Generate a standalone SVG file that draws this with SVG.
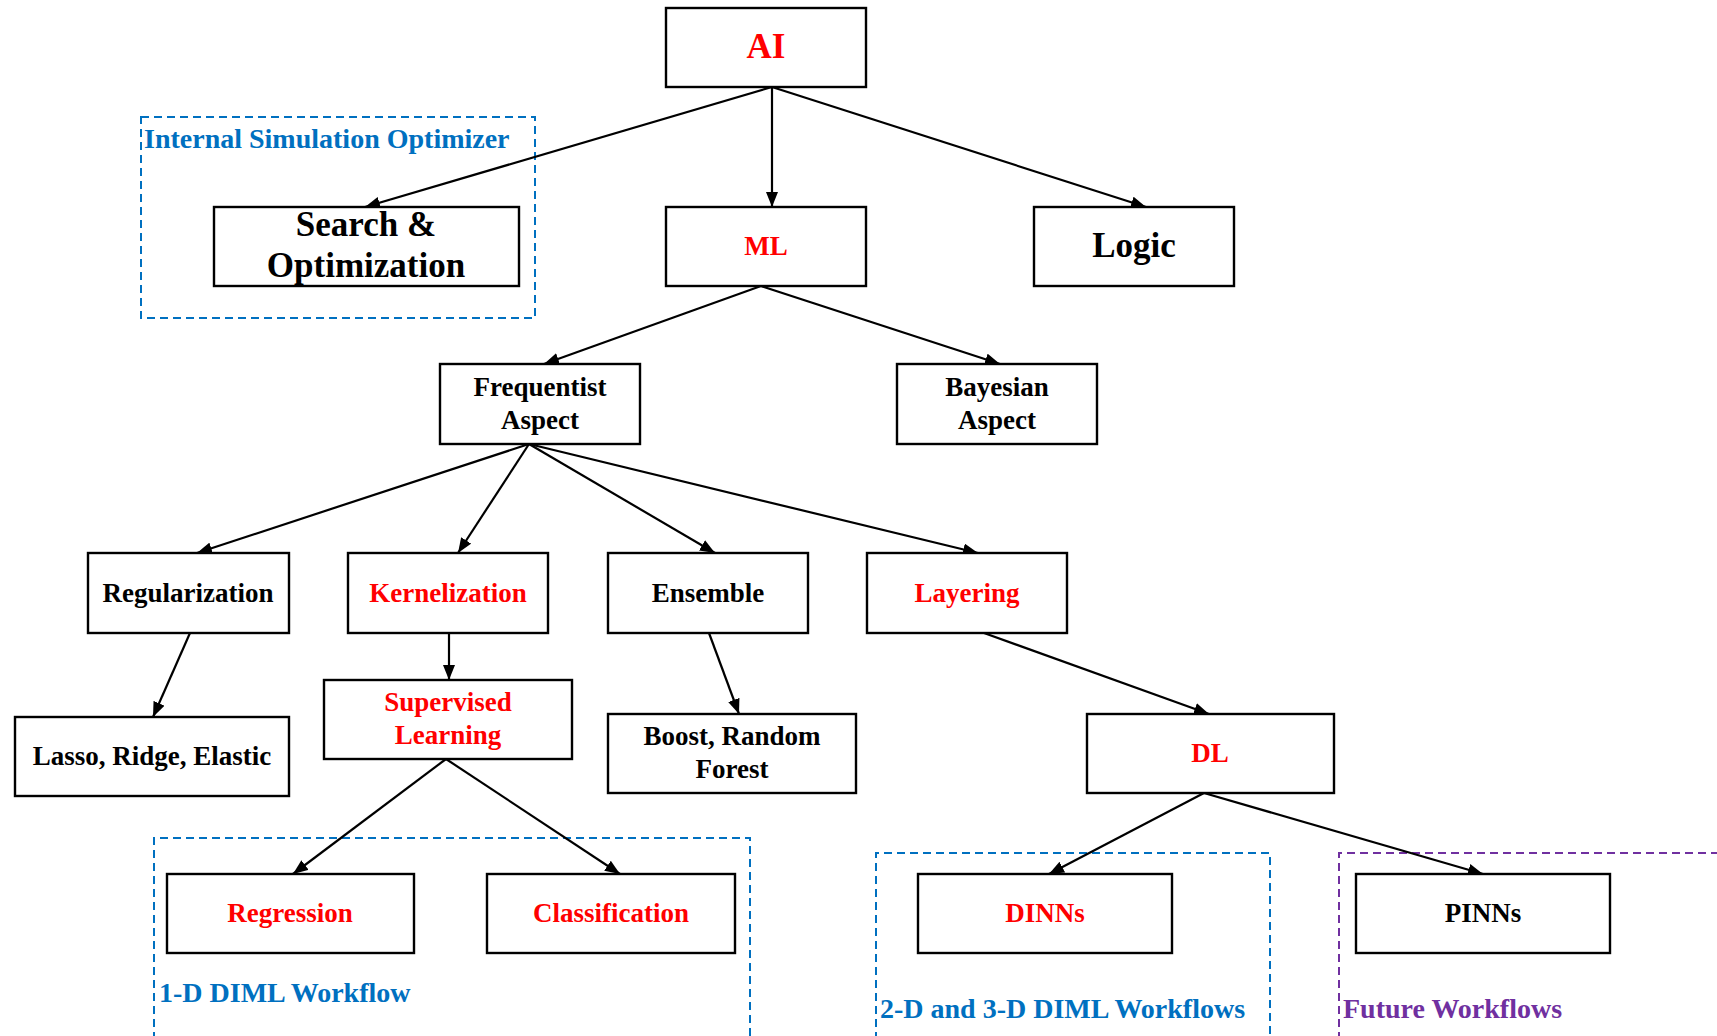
<svg xmlns="http://www.w3.org/2000/svg" width="1717" height="1036" viewBox="0 0 1717 1036">
  <defs>
    <style>
      .box { fill: #ffffff; stroke: #000000; stroke-width: 2.4; }
      .t { font-family: "Liberation Serif", "Times New Roman", serif; font-weight: bold; font-size: 27px; text-anchor: middle; }
      .big { font-size: 35px; }
      .red { fill: #ff0000; }
      .blk { fill: #000000; }
      .edge { stroke: #000000; stroke-width: 2.2; fill: none; marker-end: url(#arrow); }
      .grp { fill: none; stroke-width: 2; stroke-dasharray: 8 5; }
      .blue { stroke: #0070c0; }
      .purple { stroke: #7030a0; }
      .lbl { font-family: "Liberation Serif", "Times New Roman", serif; font-weight: bold; font-size: 28px; }
    </style>
    <marker id="arrow" viewBox="0 0 15 12" refX="15" refY="6" markerWidth="15" markerHeight="12" markerUnits="userSpaceOnUse" orient="auto">
      <path d="M0,0 L15,6 L0,12 Z" fill="#000000"/>
    </marker>
  </defs>
  <rect width="1717" height="1036" fill="#ffffff"/>

  <!-- dashed group frames -->
  <g id="groups">
    <rect class="grp blue" x="141" y="117" width="394" height="201"/>
    <text class="lbl" x="144" y="148" fill="#0070c0">Internal Simulation Optimizer</text>
    <path class="grp blue" d="M154,1040 V838 H750 V1040"/>
    <text class="lbl" x="159" y="1002" fill="#0070c0">1-D DIML Workflow</text>
    <path class="grp blue" d="M876,1040 V853 H1270 V1040"/>
    <text class="lbl" x="880" y="1018" fill="#0070c0">2-D and 3-D DIML Workflows</text>
    <path class="grp purple" d="M1339,1040 V853 H1720"/>
    <text class="lbl" x="1343" y="1018" fill="#7030a0">Future Workflows</text>
  </g>

  <!-- connectors -->
  <g id="connectors">
    <line class="edge" x1="772" y1="87" x2="365" y2="207"/>
    <line class="edge" x1="772" y1="87" x2="772" y2="207"/>
    <line class="edge" x1="772" y1="87" x2="1146" y2="207"/>
    <line class="edge" x1="761" y1="286" x2="544" y2="364"/>
    <line class="edge" x1="761" y1="286" x2="1000" y2="364"/>
    <line class="edge" x1="529" y1="444" x2="197" y2="553"/>
    <line class="edge" x1="529" y1="444" x2="458" y2="553"/>
    <line class="edge" x1="529" y1="444" x2="715" y2="553"/>
    <line class="edge" x1="529" y1="444" x2="978" y2="553"/>
    <line class="edge" x1="190" y1="633" x2="153" y2="717"/>
    <line class="edge" x1="449" y1="633" x2="449" y2="680"/>
    <line class="edge" x1="709" y1="633" x2="739" y2="714"/>
    <line class="edge" x1="446" y1="759" x2="293" y2="874"/>
    <line class="edge" x1="446" y1="759" x2="620" y2="874"/>
    <line class="edge" x1="984" y1="633" x2="1209" y2="714"/>
    <line class="edge" x1="1204" y1="793" x2="1049" y2="874"/>
    <line class="edge" x1="1204" y1="793" x2="1483" y2="874"/>
  </g>

  <!-- nodes -->
  <g id="node-ai">
    <rect class="box" x="666" y="8" width="200" height="79"/>
    <text class="t big red" x="766" y="58">AI</text>
  </g>
  <g id="node-search">
    <rect class="box" x="214" y="207" width="305" height="79"/>
    <text class="t big blk" x="366" y="236">Search &amp;</text>
    <text class="t big blk" x="366" y="277">Optimization</text>
  </g>
  <g id="node-ml">
    <rect class="box" x="666" y="207" width="200" height="79"/>
    <text class="t red" x="766" y="255">ML</text>
  </g>
  <g id="node-logic">
    <rect class="box" x="1034" y="207" width="200" height="79"/>
    <text class="t big blk" x="1134" y="257">Logic</text>
  </g>
  <g id="node-frequentist">
    <rect class="box" x="440" y="364" width="200" height="80"/>
    <text class="t blk" x="540" y="396">Frequentist</text>
    <text class="t blk" x="540" y="429">Aspect</text>
  </g>
  <g id="node-bayesian">
    <rect class="box" x="897" y="364" width="200" height="80"/>
    <text class="t blk" x="997" y="396">Bayesian</text>
    <text class="t blk" x="997" y="429">Aspect</text>
  </g>
  <g id="node-regularization">
    <rect class="box" x="88" y="553" width="201" height="80"/>
    <text class="t blk" x="188" y="602">Regularization</text>
  </g>
  <g id="node-kernelization">
    <rect class="box" x="348" y="553" width="200" height="80"/>
    <text class="t red" x="448" y="602">Kernelization</text>
  </g>
  <g id="node-ensemble">
    <rect class="box" x="608" y="553" width="200" height="80"/>
    <text class="t blk" x="708" y="602">Ensemble</text>
  </g>
  <g id="node-layering">
    <rect class="box" x="867" y="553" width="200" height="80"/>
    <text class="t red" x="967" y="602">Layering</text>
  </g>
  <g id="node-lasso">
    <rect class="box" x="15" y="717" width="274" height="79"/>
    <text class="t blk" x="152" y="765">Lasso, Ridge, Elastic</text>
  </g>
  <g id="node-supervised">
    <rect class="box" x="324" y="680" width="248" height="79"/>
    <text class="t red" x="448" y="711">Supervised</text>
    <text class="t red" x="448" y="744">Learning</text>
  </g>
  <g id="node-boost">
    <rect class="box" x="608" y="714" width="248" height="79"/>
    <text class="t blk" x="732" y="745">Boost, Random</text>
    <text class="t blk" x="732" y="778">Forest</text>
  </g>
  <g id="node-dl">
    <rect class="box" x="1087" y="714" width="247" height="79"/>
    <text class="t red" x="1210" y="762">DL</text>
  </g>
  <g id="node-regression">
    <rect class="box" x="167" y="874" width="247" height="79"/>
    <text class="t red" x="290" y="922">Regression</text>
  </g>
  <g id="node-classification">
    <rect class="box" x="487" y="874" width="248" height="79"/>
    <text class="t red" x="611" y="922">Classification</text>
  </g>
  <g id="node-dinns">
    <rect class="box" x="918" y="874" width="254" height="79"/>
    <text class="t red" x="1045" y="922">DINNs</text>
  </g>
  <g id="node-pinns">
    <rect class="box" x="1356" y="874" width="254" height="79"/>
    <text class="t blk" x="1483" y="922">PINNs</text>
  </g>
</svg>
